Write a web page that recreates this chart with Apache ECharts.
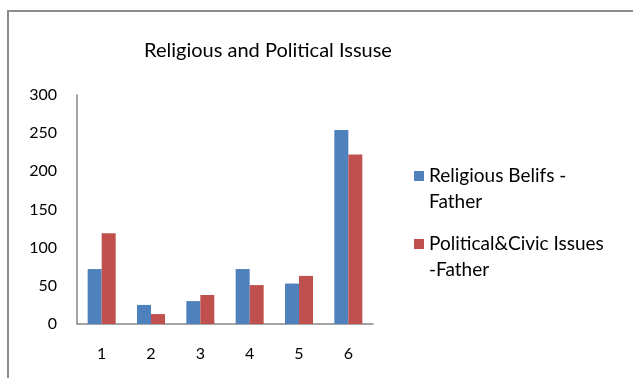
<!DOCTYPE html>
<html>
<head>
<meta charset="utf-8">
<script src="https://cdn.jsdelivr.net/npm/echarts@6/dist/echarts.min.js"></script>
<style>
  html, body { margin: 0; padding: 0; background: #fff; }
  #frame {
    position: absolute; left: 7px; top: 10px; width: 640px; height: 400px;
    border-left: 2px solid #8c8c8c; border-top: 2px solid #8c8c8c;
  }
  #chart { position: absolute; left: 0; top: 0; width: 633px; height: 378px; }
</style>
</head>
<body>
<div id="frame"></div>
<div id="chart"></div>
<script>
const categories = ["1", "2", "3", "4", "5", "6"];
const religiousFather = [72, 25, 30, 72, 53, 254];
const politicalFather = [119, 13, 38, 51, 63, 222];
const seriesNames = ["Religious Belifs - Father", "Political&Civic Issues -Father"];
const legendLabels = {
  "Religious Belifs - Father": "Religious Belifs -\nFather",
  "Political&Civic Issues -Father": "Political&Civic Issues\n-Father"
};

const font = "Lato, 'Open Sans', sans-serif";

// one legend per series so each block can sit where the reference has it
function legendFor(name, top) {
  return {
    data: [name],
    left: 414,
    top: top,
    padding: 0,
    orient: "vertical",
    itemWidth: 10,
    itemHeight: 10,
    itemGap: 0,
    icon: "rect",
    selectedMode: false,
    // leading blank line keeps the marker level with the first text line
    formatter: n => "\n" + legendLabels[n],
    textStyle: { fontFamily: font, fontSize: 19, color: "#000", lineHeight: 26 }
  };
}

const chart = echarts.init(document.getElementById("chart"));
chart.setOption({
  animation: false,
  title: {
    text: "Religious and Political Issuse",
    left: 263,
    top: 36,
    textAlign: "center",
    textStyle: { fontFamily: font, fontSize: 20, fontWeight: "normal", color: "#000" }
  },
  legend: [legendFor(seriesNames[0], 137), legendFor(seriesNames[1], 205)],
  grid: { left: 77, right: 260, top: 95, bottom: 54 },
  xAxis: {
    type: "category",
    data: categories,
    axisLine: { lineStyle: { color: "#868686", width: 1.5 } },
    axisTick: { show: false },
    axisLabel: { fontFamily: font, fontSize: 16, color: "#000", margin: 22 }
  },
  yAxis: {
    type: "value",
    min: 0,
    max: 300,
    interval: 50,
    splitLine: { show: false },
    axisLine: { show: true, lineStyle: { color: "#868686", width: 1.5 } },
    axisTick: { show: false },
    axisLabel: { fontFamily: font, fontSize: 16, color: "#000", margin: 20 }
  },
  series: [
    {
      name: seriesNames[0],
      type: "bar",
      data: religiousFather,
      barWidth: 14,
      barGap: "0%",
      itemStyle: { color: "#4F81BD" }
    },
    {
      name: seriesNames[1],
      type: "bar",
      data: politicalFather,
      barWidth: 14,
      barGap: "0%",
      itemStyle: { color: "#C0504D" }
    }
  ]
});
</script>
</body>
</html>
